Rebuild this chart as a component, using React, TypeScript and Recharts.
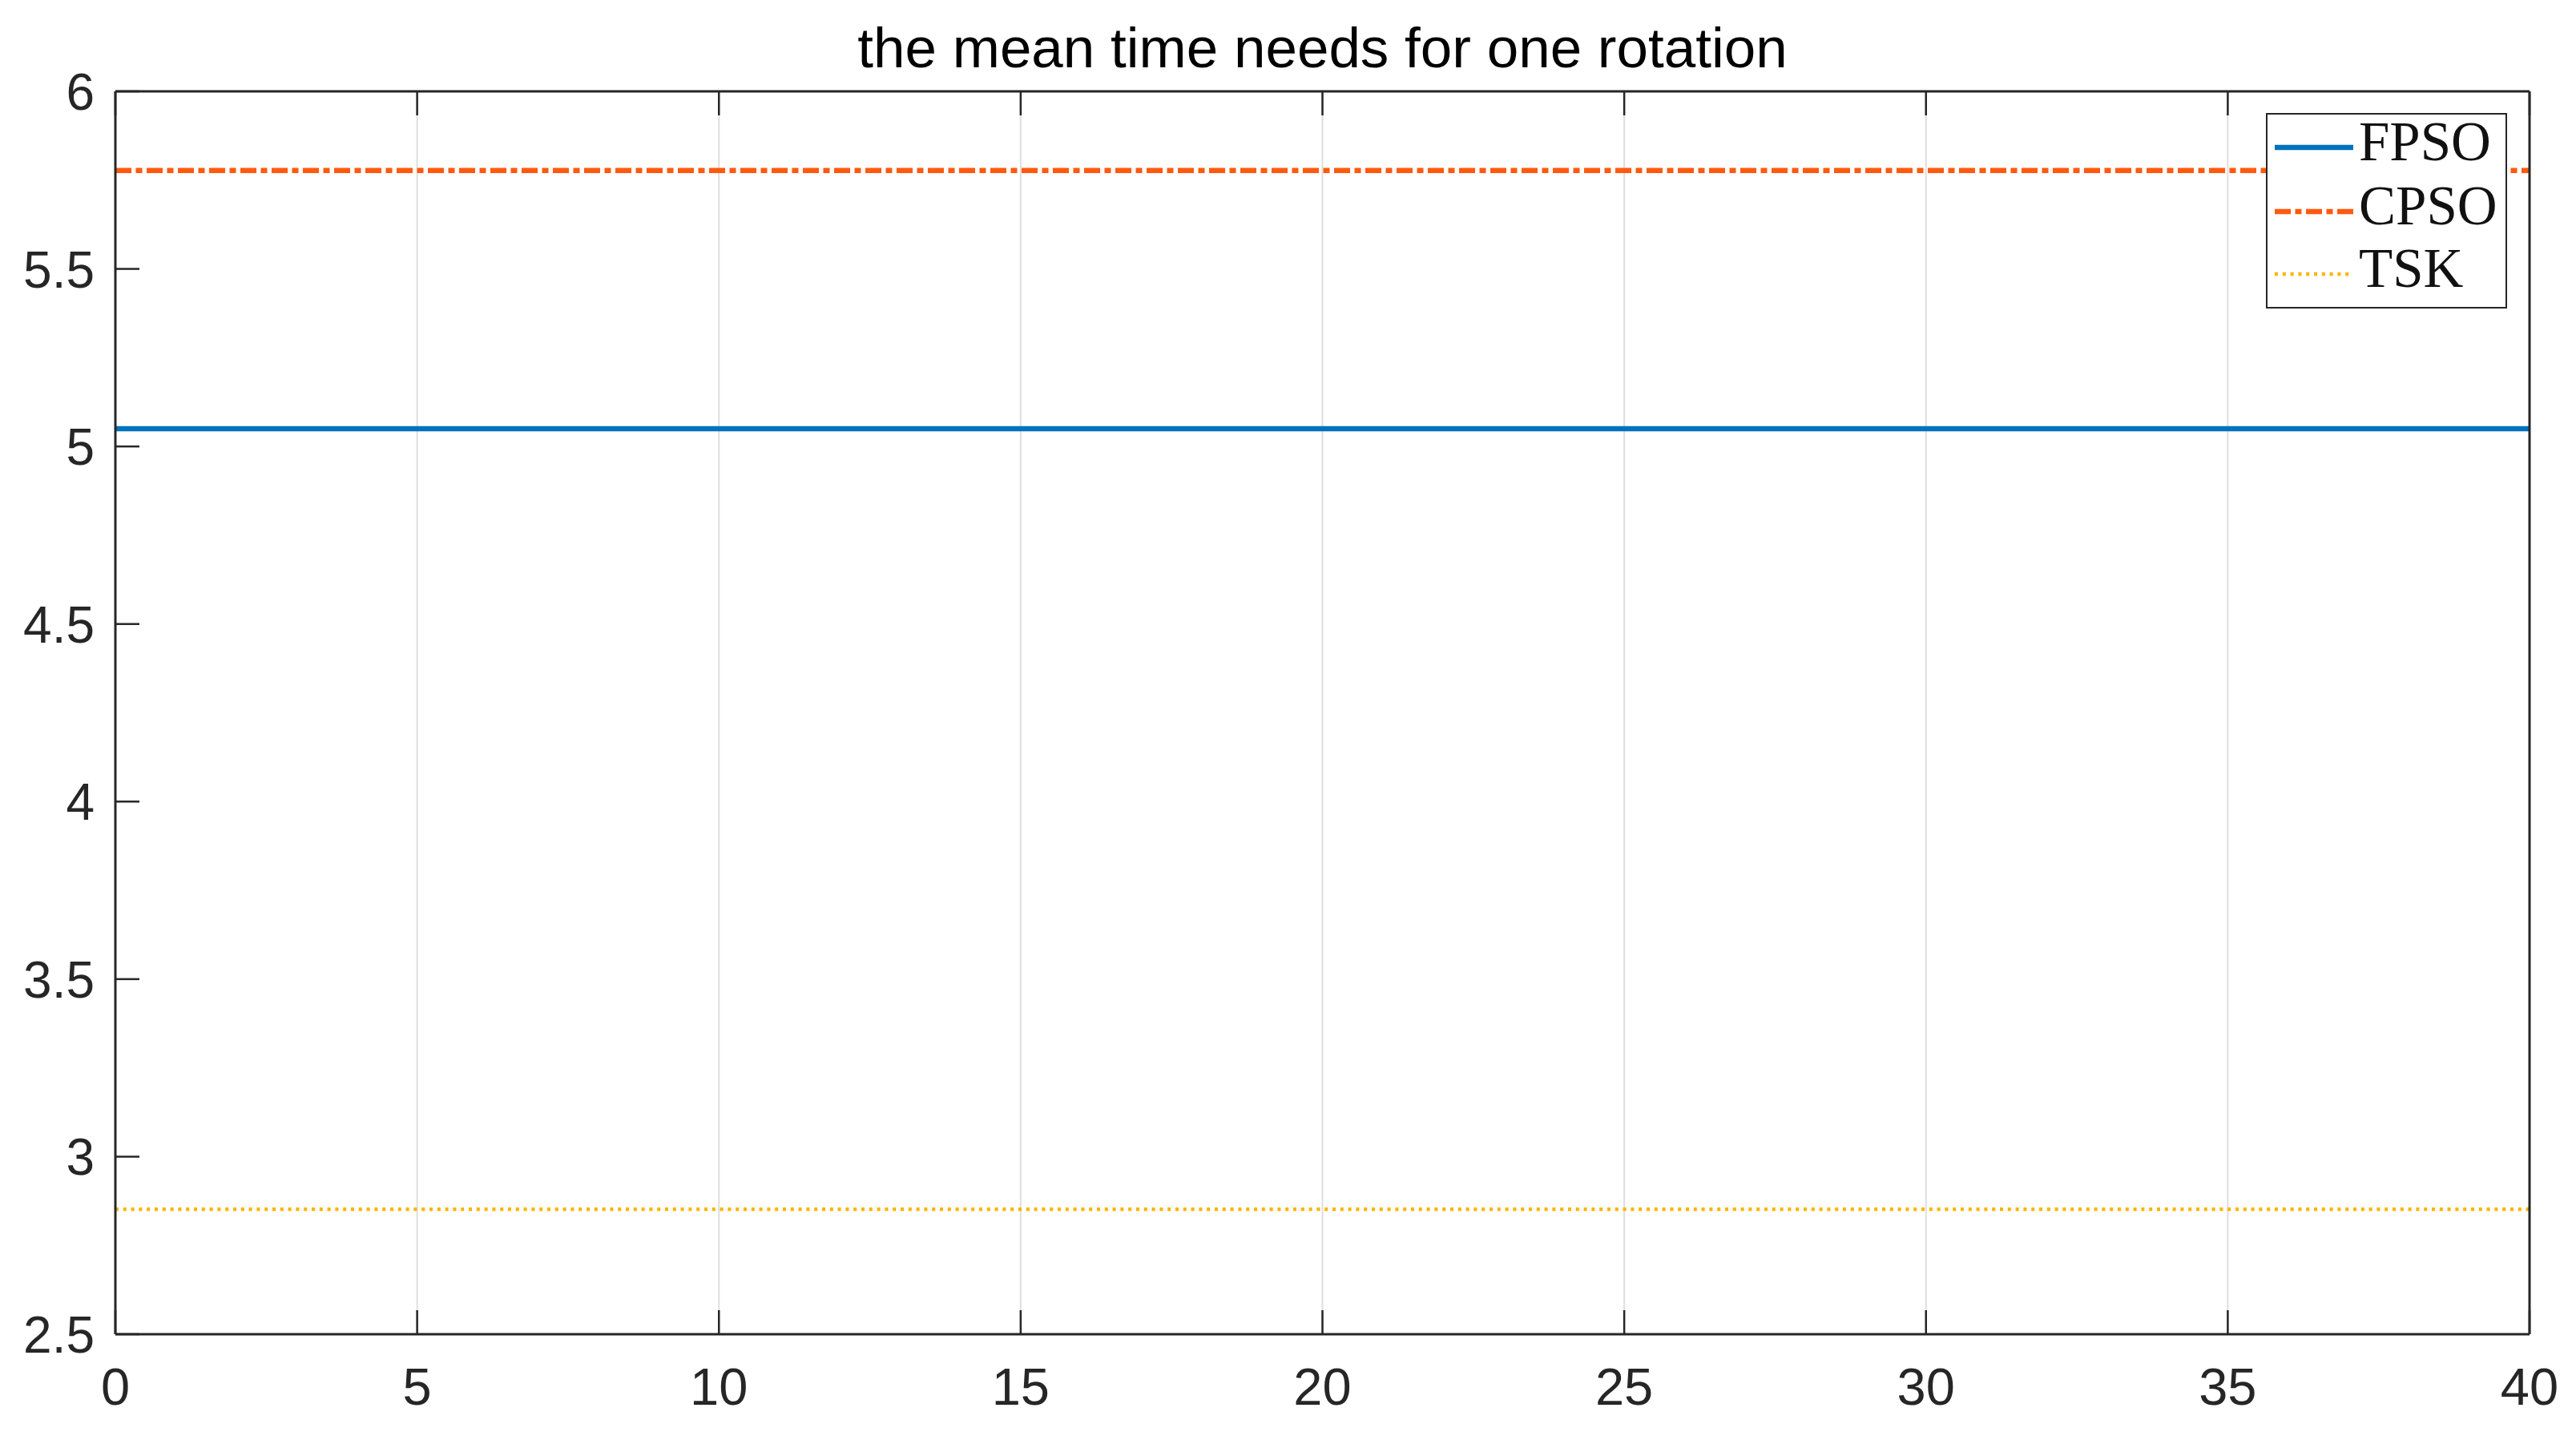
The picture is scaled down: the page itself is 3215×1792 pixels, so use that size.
import { LineChart, Line, XAxis, YAxis, CartesianGrid, Legend } from 'recharts';

// iterations on the x axis and the mean rotation time of each method
const iterations = [0, 5, 10, 15, 20, 25, 30, 35, 40];
const fpsoTime = [5.05, 5.05, 5.05, 5.05, 5.05, 5.05, 5.05, 5.05, 5.05];
const cpsoTime = [5.777, 5.777, 5.777, 5.777, 5.777, 5.777, 5.777, 5.777, 5.777];
const tskTime = [2.852, 2.852, 2.852, 2.852, 2.852, 2.852, 2.852, 2.852, 2.852];

const xTicks = [0, 5, 10, 15, 20, 25, 30, 35, 40];
const yTicks = [2.5, 3, 3.5, 4, 4.5, 5, 5.5, 6];

const seriesNames = ['FPSO', 'CPSO', 'TSK'];

const series = [
    { key: 'FPSO', color: '#0072BD', dash: undefined, width: 6.5 },
    { key: 'CPSO', color: '#FF5A10', dash: '20 5.5 8 5.5', width: 6.5 },
    { key: 'TSK', color: '#FFB300', dash: '4 5.8', width: 4.5 },
];

const data = iterations.map((it, i) => ({
    iter: it,
    FPSO: fpsoTime[i],
    CPSO: cpsoTime[i],
    TSK: tskTime[i],
}));

const AXIS = '#262626';
const TICK_LEN = 30;
const FONT = '"Liberation Sans", Arial, sans-serif';

const LeftTick = (props: any) => {
    const { x, y, payload } = props;
    return (
        <g>
            <line x1={x} x2={x + TICK_LEN} y1={y} y2={y} stroke={AXIS} strokeWidth={2.5} />
            <text x={x - 26} y={y} dy="0.36em" textAnchor="end" fontSize={64} fill="#262626" fontFamily={FONT}>
                {payload.value}
            </text>
        </g>
    );
};

const RightTick = (props: any) => {
    const { x, y } = props;
    return <line x1={x - TICK_LEN} x2={x} y1={y} y2={y} stroke={AXIS} strokeWidth={2.5} />;
};

const BottomTick = (props: any) => {
    const { x, y, payload } = props;
    return (
        <g>
            <line x1={x} x2={x} y1={y} y2={y - TICK_LEN} stroke={AXIS} strokeWidth={2.5} />
            <text x={x} y={y + 88} textAnchor="middle" fontSize={65} fill="#262626" fontFamily={FONT}>
                {payload.value}
            </text>
        </g>
    );
};

const TopTick = (props: any) => {
    const { x, y } = props;
    return <line x1={x} x2={x} y1={y} y2={y + TICK_LEN} stroke={AXIS} strokeWidth={2.5} />;
};

const renderLegend = () => (
    <div
        style={{
            width: 297,
            height: 240,
            border: `2.5px solid ${AXIS}`,
            background: 'white',
            position: 'relative',
        }}
    >
        {series.map((s, i) => (
            <div
                key={s.key}
                style={{ position: 'absolute', left: 0, top: [41, 121, 199][i] - 40, height: 80, display: 'flex', alignItems: 'center' }}
            >
                <svg width={110} height={80} style={{ display: 'block' }}>
                    <line
                        x1={9}
                        x2={107}
                        y1={40}
                        y2={40}
                        stroke={s.color}
                        strokeWidth={s.width}
                        strokeDasharray={s.dash}
                    />
                </svg>
                <span
                    style={{
                        fontFamily: '"Liberation Serif", "Times New Roman", serif',
                        fontSize: 69,
                        lineHeight: '80px',
                        color: '#111',
                        marginLeft: 4,
                        position: 'relative',
                        top: -7,
                    }}
                >
                    {seriesNames[i]}
                </span>
            </div>
        ))}
    </div>
);

export default function App() {
    return (
        <div style={{ position: 'absolute', left: 0, top: 0, width: 3215, height: 1792, background: 'white' }}>
            <div
                style={{
                    position: 'absolute',
                    left: 144,
                    width: 3013,
                    top: 24,
                    textAlign: 'center',
                    fontFamily: FONT,
                    fontSize: 71,
                    lineHeight: '71px',
                    color: '#000',
                }}
            >
                the mean time needs for one rotation
            </div>
            <LineChart width={3215} height={1792} data={data} margin={{ top: 0, right: 0, bottom: 0, left: 0 }}>
                <CartesianGrid stroke="#dedede" strokeWidth={2} horizontal vertical />
                <XAxis
                    xAxisId="bottom"
                    dataKey="iter"
                    type="number"
                    domain={[0, 40]}
                    ticks={xTicks}
                    height={127}
                    orientation="bottom"
                    axisLine={{ stroke: AXIS, strokeWidth: 3 }}
                    tickLine={false}
                    tickSize={0}
                    tickMargin={0}
                    tick={BottomTick}
                    interval={0}
                />
                <XAxis
                    xAxisId="top"
                    dataKey="iter"
                    type="number"
                    domain={[0, 40]}
                    ticks={xTicks}
                    height={114}
                    orientation="top"
                    axisLine={{ stroke: AXIS, strokeWidth: 3 }}
                    tickLine={false}
                    tickSize={0}
                    tickMargin={0}
                    tick={TopTick}
                    interval={0}
                />
                <YAxis
                    yAxisId="left"
                    type="number"
                    domain={[2.5, 6]}
                    ticks={yTicks}
                    width={144}
                    orientation="left"
                    axisLine={{ stroke: AXIS, strokeWidth: 3 }}
                    tickLine={false}
                    tickSize={0}
                    tickMargin={0}
                    tick={LeftTick}
                    interval={0}
                />
                <YAxis
                    yAxisId="right"
                    type="number"
                    domain={[2.5, 6]}
                    ticks={yTicks}
                    width={58}
                    orientation="right"
                    axisLine={{ stroke: AXIS, strokeWidth: 3 }}
                    tickLine={false}
                    tickSize={0}
                    tickMargin={0}
                    tick={RightTick}
                    interval={0}
                />
                {series.map((s) => (
                    <Line
                        key={s.key}
                        xAxisId="bottom"
                        yAxisId="left"
                        type="linear"
                        dataKey={s.key}
                        stroke={s.color}
                        strokeWidth={s.width}
                        strokeDasharray={s.dash}
                        dot={false}
                        activeDot={false}
                        isAnimationActive={false}
                    />
                ))}
                <Legend
                    layout="vertical"
                    align="center"
                    verticalAlign="middle"
                    content={renderLegend}
                    wrapperStyle={{ position: 'absolute', left: 2828, top: 141, width: 302, height: 245 }}
                />
            </LineChart>
        </div>
    );
}
